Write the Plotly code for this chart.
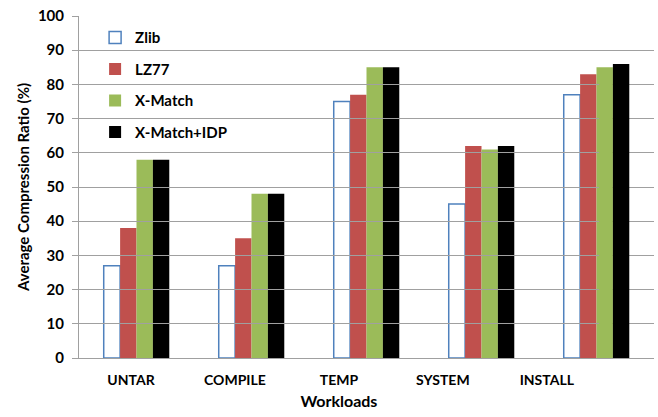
import plotly.graph_objects as go

workloads = ["UNTAR", "COMPILE", "TEMP", "SYSTEM", "INSTALL"]
zlib = [27, 27, 75, 45, 77]
lz77 = [38, 35, 77, 62, 83]
xmatch = [58, 48, 85, 61, 85]
xmatch_idp = [58, 48, 85, 62, 86]

FONT = "Lato"
GRID = "#a0a0a0"

fig = go.Figure()
series = [
    ("Zlib", zlib, "white", "#4f81bd", 1.5),
    ("LZ77", lz77, "#c0504d", "#c0504d", 0),
    ("X-Match", xmatch, "#9bbb59", "#9bbb59", 0),
    ("X-Match+IDP", xmatch_idp, "#000000", "#000000", 0),
]
for name, vals, fill, line, lw in series:
    fig.add_trace(go.Bar(
        x=list(range(len(workloads))), y=vals, name=name, legendgroup=name,
        marker=dict(color=fill, line=dict(color=line, width=lw)),
    ))

# invisible points carrying the workload names on a narrower label axis
fig.add_trace(go.Scatter(x=workloads, y=[0] * len(workloads), xaxis="x2",
                         mode="markers", marker=dict(opacity=0),
                         showlegend=False, hoverinfo="skip"))

fig.update_layout(
    width=658, height=417,
    margin=dict(l=79, r=4, t=16, b=59),
    paper_bgcolor="white", plot_bgcolor="rgba(0,0,0,0)",
    barmode="group", bargap=0.43, bargroupgap=0,
    font=dict(family=FONT, size=14, color="#000000"),
    showlegend=True,
    legend=dict(
        x=0.028, y=0.985, xanchor="left", yanchor="top",
        bgcolor="rgba(0,0,0,0)", tracegroupgap=9,
        font=dict(family=FONT, size=15, color="#000000", weight="bold"),
    ),
    xaxis=dict(
        domain=[0, 1], range=[-0.5, 4.5], showticklabels=False, showgrid=False,
        zeroline=False, showline=True, linecolor=GRID, linewidth=1,
        ticks="",
    ),
    xaxis2=dict(
        domain=[0, 0.904], anchor="y", side="bottom",
        type="category", range=[-0.5, 4.5],
        showgrid=False, zeroline=False, showline=False, ticks="",
        ticklabelstandoff=12,
        tickfont=dict(family=FONT, size=14, color="#000000", weight="bold"),
        title=dict(text="Workloads", standoff=8,
                   font=dict(family=FONT, size=16, color="#000000", weight="bold")),
    ),
    yaxis=dict(
        range=[0, 100], dtick=10, showgrid=True, gridcolor=GRID, gridwidth=1,
        zeroline=False, showline=True, linecolor=GRID, linewidth=1,
        ticks="outside", ticklen=6, tickcolor=GRID, ticklabelstandoff=5,
        tickfont=dict(family=FONT, size=15, color="#000000", weight="bold"),
        title=dict(text="Average Compression Ratio (%)", standoff=4,
                   font=dict(family=FONT, size=15, color="#000000", weight="bold")),
    ),
)

fig.write_html("out.html")
